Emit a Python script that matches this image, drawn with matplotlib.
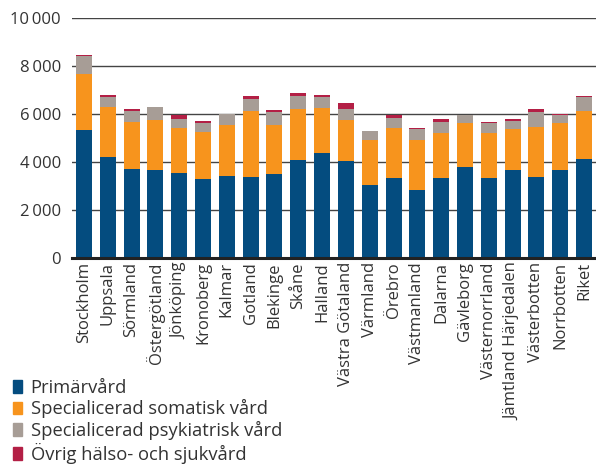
import numpy as np
import matplotlib
matplotlib.use("Agg")
import matplotlib.pyplot as plt
from matplotlib.patches import Patch

# regions
regions = ["Stockholm", "Uppsala", "Sörmland", "Östergötland", "Jönköping",
           "Kronoberg", "Kalmar", "Gotland", "Blekinge", "Skåne", "Halland",
           "Västra Götaland", "Värmland", "Örebro", "Västmanland", "Dalarna",
           "Gävleborg", "Västernorrland", "Jämtland Härjedalen", "Västerbotten",
           "Norrbotten", "Riket"]

# cost per inhabitant (kr)
primarvard = [5330, 4210, 3710, 3670, 3550, 3300, 3420, 3380, 3500, 4090, 4380,
              4040, 3050, 3340, 2840, 3340, 3800, 3340, 3670, 3380, 3670, 4130]
somatisk = [2330, 2080, 1970, 2090, 1880, 1960, 2120, 2740, 2040, 2090, 1880,
            1720, 1880, 2090, 2090, 1870, 1800, 1870, 1700, 2080, 1930, 1990]
psykiatrisk = [750, 410, 440, 530, 370, 340, 460, 500, 540, 580, 420,
               420, 370, 410, 420, 470, 370, 390, 350, 630, 330, 560]
ovrig = [50, 90, 60, 0, 170, 110, 0, 130, 60, 110, 110,
         250, 0, 130, 40, 120, 0, 80, 80, 130, 70, 80]

labels = ["Primärvård", "Specialicerad somatisk vård",
          "Specialicerad psykiatrisk vård", "Övrig hälso- och sjukvård"]
colors = ["#044c7f", "#f7941d", "#a79d96", "#b31f45"]

plt.rcParams['font.family'] = ['Open Sans', 'DejaVu Sans']
txt = '#333333'

fig = plt.figure(figsize=(5.96, 4.66), dpi=100)
ax = fig.add_axes([72/596, 0.4464, 524/596, 0.962-0.4464])

x = np.arange(len(regions))
bottom = np.zeros(len(regions))
for vals, c in zip([primarvard, somatisk, psykiatrisk, ovrig], colors):
    ax.bar(x, vals, 0.67, bottom=bottom, color=c, zorder=3)
    bottom += np.array(vals)

ax.set_xlim(-0.5, len(regions) - 0.5)
ax.set_ylim(0, 10000)
ax.set_yticks(np.arange(0, 10001, 2000))
ax.set_yticklabels(['0', '2\u2009000', '4\u2009000', '6\u2009000', '8\u2009000', '10\u2009000'])
for y in np.arange(2000, 10001, 2000):
    ax.axhline(y, color='#444444', lw=1.0, zorder=1)
ax.axhline(0, color='#222222', lw=2.2, zorder=4, clip_on=False)

ax.set_xticks(x)
ax.set_xticklabels(regions, rotation=90)
ax.tick_params(axis='both', length=0, labelsize=12, colors=txt)
ax.tick_params(axis='x', pad=3)
ax.tick_params(axis='y', pad=8)
for s in ax.spines.values():
    s.set_visible(False)

handles = [Patch(color=c) for c in colors]
fig.legend(handles, labels, loc='upper left', bbox_to_anchor=(0.022, 0.187),
           frameon=False, fontsize=13.2, labelcolor=txt, handlelength=0.5,
           handleheight=0.7, handletextpad=0.45, labelspacing=0.14,
           borderaxespad=0, borderpad=0)

fig.savefig('out.png', dpi=100)
